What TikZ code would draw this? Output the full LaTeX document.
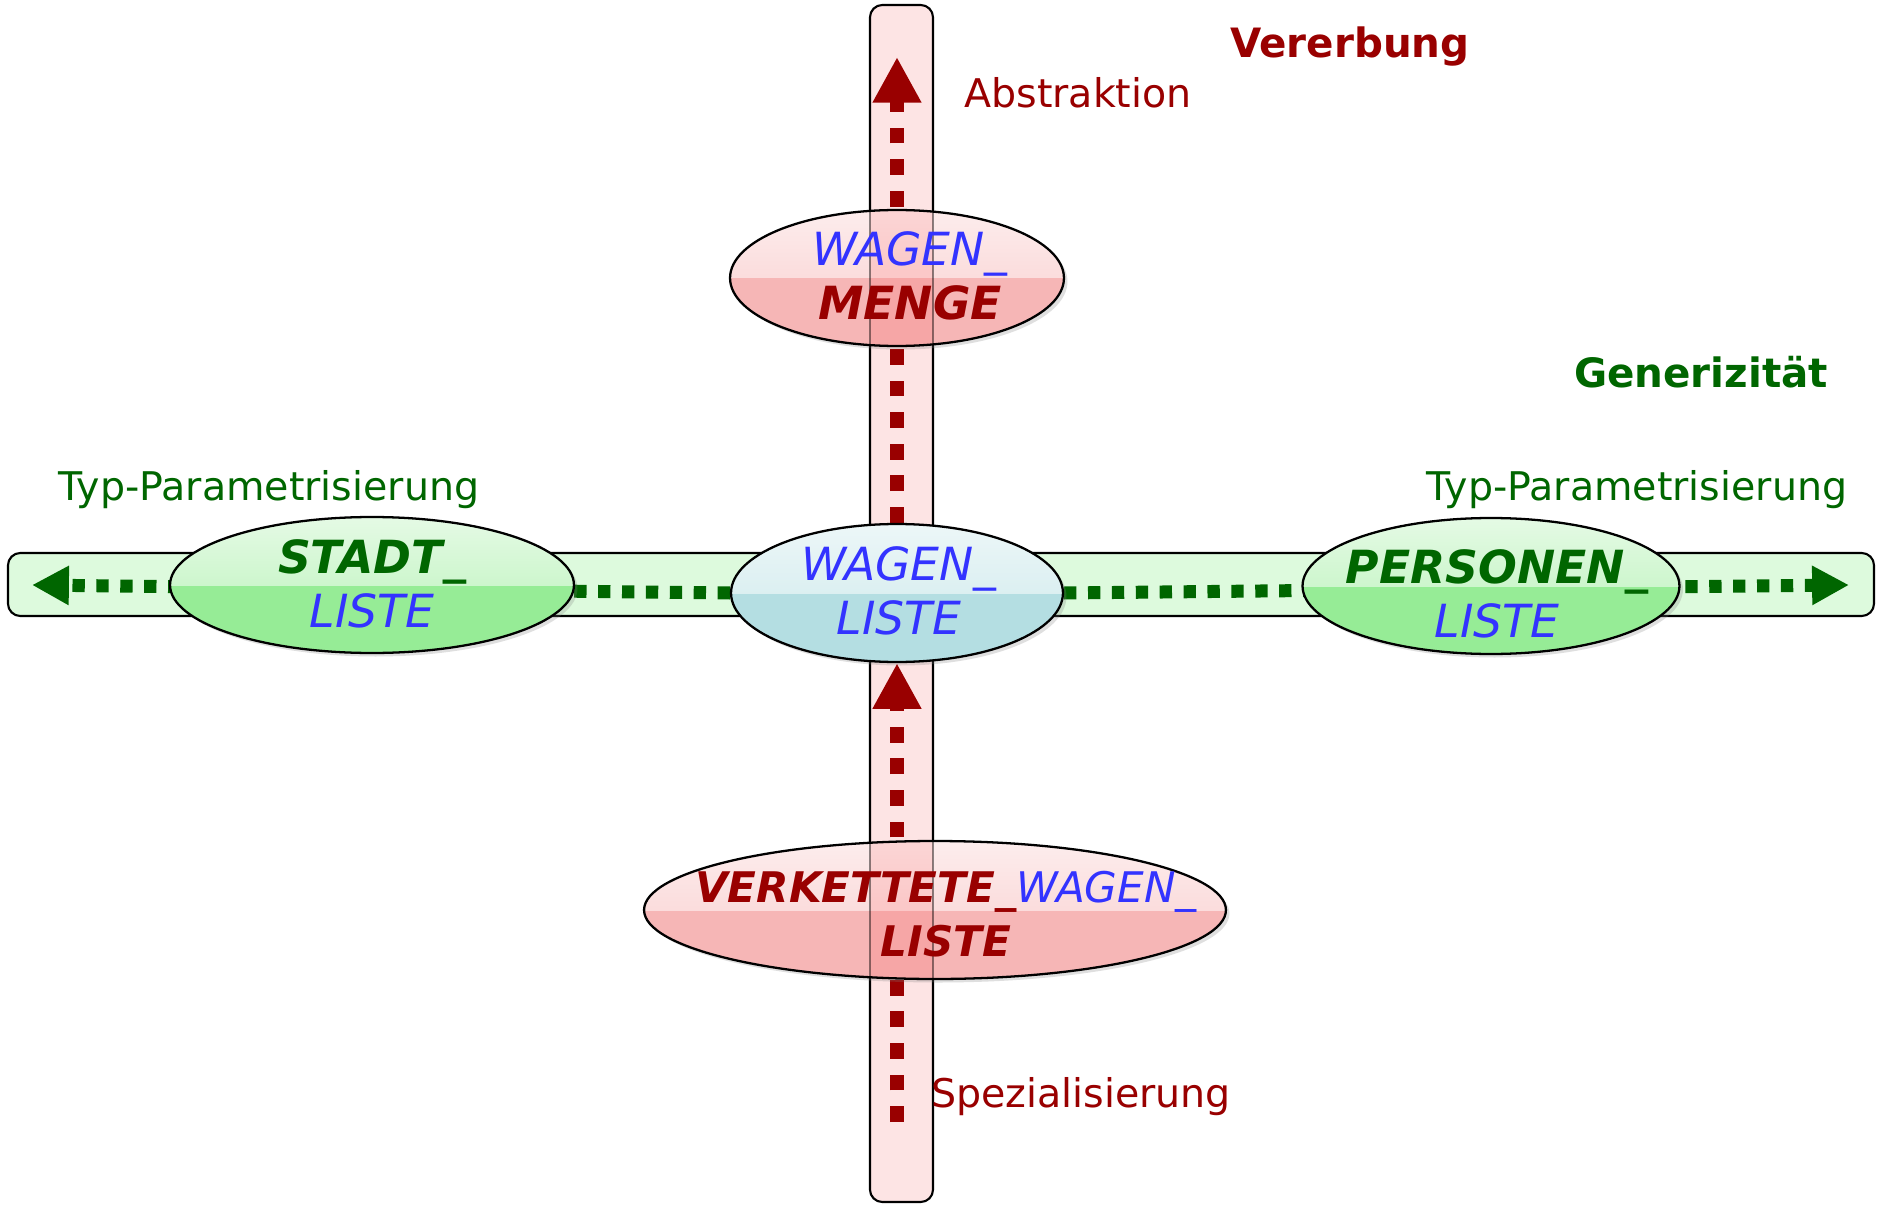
\documentclass[tikz,border=0pt]{standalone}
\usepackage{fontspec}
\setmainfont{DejaVu Sans}[BoldFont={DejaVu Sans Bold}, ItalicFont={DejaVu Sans Oblique}, BoldItalicFont={DejaVu Sans Bold Oblique}]
\usetikzlibrary{shapes.geometric,arrows.meta,shadows}
\pgfdeclarelayer{back}
\pgfsetlayers{back,main}

\definecolor{darkred}{RGB}{153,0,0}
\definecolor{darkgreen}{RGB}{0,102,0}
\definecolor{textblue}{RGB}{51,51,255}
\definecolor{barpink}{RGB}{253,228,228}
\definecolor{bargreen}{RGB}{221,250,221}
\definecolor{ellpink}{RGB}{246,182,182}
\definecolor{ellblue}{RGB}{180,222,226}
\definecolor{ellgreen}{RGB}{150,236,150}

\tikzset{
  bar/.style={draw=black, line width=1.2pt, rounded corners=7pt},
  redflow/.style={draw=darkred, color=darkred, line width=8.2pt,
    dash pattern=on 9pt off 9pt, -{Triangle[width=26pt,length=26pt]}},
  greenflow/.style={draw=darkgreen, color=darkgreen, line width=7.4pt,
    dash pattern=on 7pt off 6.6pt, -{Triangle[width=21pt,length=21pt]}},
  gloss/.style={ellipse, draw=black, line width=1.3pt, inner sep=0pt, fill=#1,
    drop shadow={opacity=0.25, shadow xshift=2pt, shadow yshift=-2pt}},
  glassy/.style={gloss=#1,
    path picture={\shade[top color=#1!25!white, bottom color=#1!70!white]
      (path picture bounding box.north west) rectangle (path picture bounding box.east);}},
  pinkglass/.style 2 args={gloss=ellpink,
    path picture={\shade[top color=ellpink!25!white, bottom color=ellpink!70!white]
      (path picture bounding box.north west) rectangle (path picture bounding box.east);
      \fill[red!60!ellpink, fill opacity=0.14]
        ([xshift=#1]path picture bounding box.south) rectangle ([xshift=#2]path picture bounding box.north);
      \draw[black, line width=0.9pt, opacity=0.45]
        ([xshift=#1]path picture bounding box.south) -- ([xshift=#1]path picture bounding box.north)
        ([xshift=#2]path picture bounding box.south) -- ([xshift=#2]path picture bounding box.north);}},
  etext/.style={inner sep=0pt, align=center, font=\fontsize{26}{31}\selectfont},
  lbl/.style={inner sep=0pt, font=\fontsize{22.5}{26}\selectfont},
  title/.style={inner sep=0pt, font=\bfseries\fontsize{23}{28}\selectfont}
}

\begin{document}
\begin{tikzpicture}[x=0.02cm, y=-0.02cm]
\useasboundingbox (0,0) rectangle (1877,1206);

% class ellipses
\node[pinkglass={-0.54cm}{0.72cm}, minimum width=6.68cm, minimum height=2.72cm] (menge) at (897,278) {};
\node[pinkglass={-1.30cm}{-0.04cm}, minimum width=11.64cm, minimum height=2.76cm] (verk) at (935,910) {};
\node[glassy=ellblue, minimum width=6.64cm, minimum height=2.76cm] (wliste) at (897,593) {};
\node[glassy=ellgreen, minimum width=8.08cm, minimum height=2.72cm] (stadt) at (372,585) {};
\node[glassy=ellgreen, minimum width=7.54cm, minimum height=2.72cm] (personen) at (1491,586) {};

% free ends of the arrows
\coordinate (topend) at (897,57);
\coordinate (botstart) at (897,1122);
\coordinate (leftend) at (32,585);
\coordinate (rightend) at (1849,585);

\begin{pgfonlayer}{back}
  \fill[white] (0,0) rectangle (1877,1206);
  % axes
  \draw[bar, fill=bargreen] (8,553) rectangle (1874,616);
  \draw[bar, fill=barpink] (870,5) rectangle (933,1202);
  % inheritance axis
  \draw[redflow] (wliste.north) -- (topend);
  \draw[redflow] (botstart) -- (wliste.south);
  % genericity axis
  \draw[greenflow] (wliste.west) -- (leftend);
  \draw[greenflow] (wliste.east) -- (rightend);
\end{pgfonlayer}

% class names
\node[etext] (menge-t) at (910,276) {{\itshape\color{textblue}WAGEN\_}\\{\bfseries\itshape\color{darkred}MENGE}};
\node[etext] (wliste-t) at (899,591) {{\itshape\color{textblue}WAGEN\_}\\{\itshape\color{textblue}LISTE}};
\node[etext] (stadt-t) at (372,584) {{\bfseries\itshape\color{darkgreen}STADT\_}\\{\itshape\color{textblue}LISTE}};
\node[etext] (personen-t) at (1497,594) {{\bfseries\itshape\color{darkgreen}PERSONEN\_}\\{\itshape\color{textblue}LISTE}};
\node[etext, font=\fontsize{24}{31}\selectfont] (verk-t) at (946,914) {{\bfseries\itshape\color{darkred}VERKETTETE\_}{\itshape\color{textblue}WAGEN\_}\\{\bfseries\itshape\color{darkred}LISTE}};

% axis labels
\node[title, text=darkred] (vererbung) at (1350,47) {Vererbung};
\node[lbl, text=darkred] (abstraktion) at (1078,93) {Abstraktion};
\node[title, text=darkgreen] (generizitaet) at (1701,372) {Generizität};
\node[lbl, text=darkgreen] (typ-links) at (269,490) {Typ-Parametrisierung};
\node[lbl, text=darkgreen] (typ-rechts) at (1637,490) {Typ-Parametrisierung};
\node[lbl, text=darkred] (spezialisierung) at (1081,1097) {Spezialisierung};
\end{tikzpicture}
\end{document}
